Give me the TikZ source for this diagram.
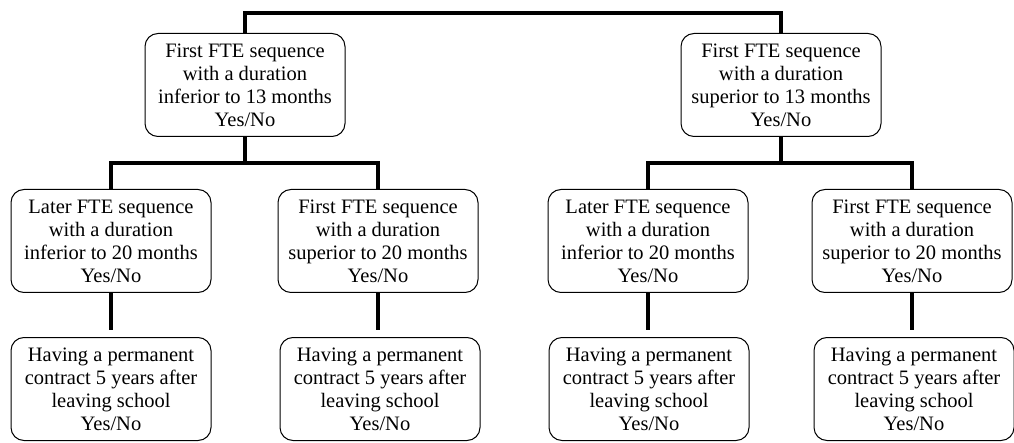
\documentclass[tikz,border=0pt]{standalone}
\usepackage{fontspec}
\setmainfont{Liberation Serif}
\usepackage{tikz}

\tikzset{
  qbox/.style={draw, line width=1pt, rounded corners=13pt, minimum width=200pt, minimum height=103pt, inner sep=0.75pt, align=center, font=\fontsize{20.5}{23}\selectfont},
  link/.style={line width=4pt}
}

\begin{document}
\begin{tikzpicture}[x=1pt, y=1pt, yscale=1, xscale=1]
\useasboundingbox (0,0) rectangle (1014,442);
%Boxes
\node[qbox] (q1) at (245, 357) {First FTE sequence\\with a duration\\inferior to 13 months\\Yes/No};
\node[qbox] (q2) at (781, 357) {First FTE sequence\\with a duration\\superior to 13 months\\Yes/No};
\node[qbox] (q11) at (111, 201) {Later FTE sequence\\with a duration\\inferior to 20 months\\Yes/No};
\node[qbox] (q12) at (378, 201) {First FTE sequence\\with a duration\\superior to 20 months\\Yes/No};
\node[qbox] (q21) at (648, 201) {Later FTE sequence\\with a duration\\inferior to 20 months\\Yes/No};
\node[qbox] (q22) at (912, 201) {First FTE sequence\\with a duration\\superior to 20 months\\Yes/No};
\node[qbox] (r11) at (111, 53) {Having a permanent\\contract 5 years after\\leaving school\\Yes/No};
\node[qbox] (r12) at (380, 53) {Having a permanent\\contract 5 years after\\leaving school\\Yes/No};
\node[qbox] (r21) at (649, 53) {Having a permanent\\contract 5 years after\\leaving school\\Yes/No};
\node[qbox] (r22) at (914, 53) {Having a permanent\\contract 5 years after\\leaving school\\Yes/No};
%Links
\coordinate (top) at (0, 429);
\coordinate (mid) at (0, 279);
\draw[link] (q1.north) |- (top -| q1.north) -| (q2.north);
\draw[link] (q1.south) -- (q1.south |- mid);
\draw[link] (q11.north) |- (mid -| q12.north) -- (q12.north);
\draw[link] (q2.south) -- (q2.south |- mid);
\draw[link] (q21.north) |- (mid -| q22.north) -- (q22.north);
\draw[link] (q11.south) -- ([yshift=7pt]q11.south |- r11.north);
\draw[link] (q12.south) -- ([yshift=7pt]q12.south |- r12.north);
\draw[link] (q21.south) -- ([yshift=7pt]q21.south |- r21.north);
\draw[link] (q22.south) -- ([yshift=7pt]q22.south |- r22.north);
\end{tikzpicture}
\end{document}
